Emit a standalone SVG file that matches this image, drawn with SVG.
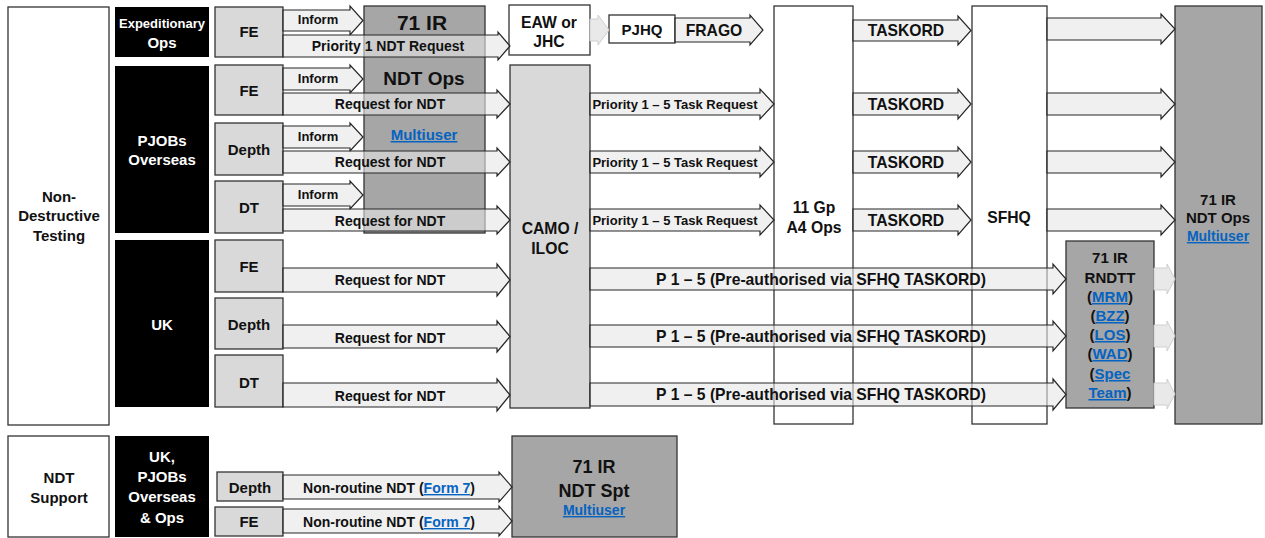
<svg xmlns="http://www.w3.org/2000/svg" width="1265" height="538" viewBox="0 0 1265 538">
<defs>
<style>
.bx{stroke:#333;stroke-width:1.3}
.w{fill:#fff}
.lg{fill:#d9d9d9}
.dg{fill:#a6a6a6}
.bk{fill:#000;stroke:none}
.arr{fill:#e6e6e6;fill-opacity:.6;stroke:#262626;stroke-width:1.2;stroke-linejoin:miter}
.fa{fill:#e9e9e9;stroke:#cfcfcf;stroke-width:1}
text{font-family:"Liberation Sans",Arial,sans-serif;font-weight:bold;text-anchor:middle;fill:#111}
.wt{fill:#fff}
.lk{fill:#0563C1;text-decoration:underline}
.s12{font-size:13px}.s13{font-size:13px}.s135{font-size:14px}.s14{font-size:14px}.s15{font-size:15px}.s16{font-size:15.7px}.s18{font-size:18px}.s19{font-size:19px}.s21{font-size:21px}
</style>
</defs>
<rect width="1265" height="538" fill="#fff"/>
<g id="nodes">
<g id="ndt"><rect class="bx w" x="8" y="7" width="101" height="418"/><text class="s15" x="59" y="202">Non-</text><text class="s15" x="59" y="221">Destructive</text><text class="s15" x="59" y="241">Testing</text></g>
<g id="expops"><rect class="bk" x="115" y="7" width="94" height="50"/><text class="wt s13" x="162" y="28">Expeditionary</text><text class="wt s15" x="162" y="48">Ops</text></g>
<g id="pjobs"><rect class="bk" x="115" y="66" width="94" height="167"/><text class="wt s15" x="162" y="146">PJOBs</text><text class="wt s15" x="162" y="165">Overseas</text></g>
<g id="uk"><rect class="bk" x="115" y="240" width="94" height="167"/><text class="wt s15" x="162" y="330">UK</text></g>
<g id="exp-fe"><rect class="bx lg" x="215" y="7" width="68" height="50"/><text class="s15" x="249" y="37">FE</text></g>
<g id="pj-fe"><rect class="bx lg" x="215" y="65" width="68" height="50"/><text class="s15" x="249" y="96">FE</text></g>
<g id="pj-depth"><rect class="bx lg" x="215" y="123" width="68" height="52"/><text class="s15" x="249" y="155">Depth</text></g>
<g id="pj-dt"><rect class="bx lg" x="215" y="181" width="68" height="52"/><text class="s15" x="249" y="213">DT</text></g>
<g id="uk-fe"><rect class="bx lg" x="215" y="240" width="68" height="52"/><text class="s15" x="249" y="272">FE</text></g>
<g id="uk-depth"><rect class="bx lg" x="215" y="298" width="68" height="51"/><text class="s15" x="249" y="330">Depth</text></g>
<g id="uk-dt"><rect class="bx lg" x="215" y="355" width="68" height="52"/><text class="s15" x="249" y="388">DT</text></g>
<g id="ir71-top"><rect class="bx dg" x="364" y="6" width="121" height="227"/><text class="s21" x="422" y="30">71 IR</text><text class="s19" x="424" y="85">NDT Ops</text><text class="lk s15" x="424" y="140">Multiuser</text></g>
<g id="eaw"><rect class="bx w" x="509" y="5" width="81" height="50"/><text class="s16" x="549" y="28">EAW or</text><text class="s16" x="549" y="47">JHC</text></g>
<g id="pjhq"><rect class="bx w" x="609" y="15" width="66" height="28"/><text class="s15" x="642" y="35">PJHQ</text></g>
<g id="camo"><rect class="bx lg" x="510" y="65" width="80" height="343"/><text class="s16" x="550" y="234">CAMO /</text><text class="s16" x="550" y="254">ILOC</text></g>
<g id="gp11"><rect class="bx w" x="774" y="6" width="79" height="418"/><text class="s16" x="814" y="213">11 Gp</text><text class="s16" x="814" y="233">A4 Ops</text></g>
<g id="sfhq"><rect class="bx w" x="972" y="6" width="75" height="418"/><text class="s16" x="1009" y="223">SFHQ</text></g>
<g id="ir71-ops"><rect class="bx dg" x="1175" y="6" width="87" height="418"/><text class="s15" x="1218" y="205">71 IR</text><text class="s15" x="1218" y="223">NDT Ops</text><text class="lk s14" x="1218" y="241">Multiuser</text></g>
<g id="rndtt"><rect class="bx dg" x="1066" y="241" width="88" height="167"/><text class="s15" x="1110" y="263">71 IR</text><text class="s15" x="1110" y="283">RNDTT</text><text class="s15" x="1110" y="302">(<tspan class="lk">MRM</tspan>)</text><text class="s15" x="1110" y="321">(<tspan class="lk">BZZ</tspan>)</text><text class="s15" x="1110" y="340">(<tspan class="lk">LOS</tspan>)</text><text class="s15" x="1110" y="359">(<tspan class="lk">WAD</tspan>)</text><text class="s15" x="1110" y="379">(<tspan class="lk">Spec</tspan></text><text class="s15" x="1110" y="398"><tspan class="lk">Team</tspan>)</text></g>
<g id="support"><rect class="bx w" x="8" y="436" width="101" height="101"/><text class="s15" x="59" y="483">NDT</text><text class="s15" x="59" y="503">Support</text></g>
<g id="all-ops"><rect class="bk" x="115" y="436" width="94" height="101"/><text class="wt s15" x="162" y="462">UK,</text><text class="wt s15" x="162" y="482">PJOBs</text><text class="wt s15" x="162" y="502">Overseas</text><text class="wt s15" x="162" y="523">&amp; Ops</text></g>
<g id="sp-depth"><rect class="bx lg" x="217" y="472" width="66" height="29"/><text class="s15" x="250" y="493">Depth</text></g>
<g id="sp-fe"><rect class="bx lg" x="215" y="507" width="68" height="29"/><text class="s15" x="249" y="527">FE</text></g>
<g id="ir71-spt"><rect class="bx dg" x="512" y="436" width="165" height="101"/><text class="s18" x="594" y="473">71 IR</text><text class="s18" x="594" y="497">NDT Spt</text><text class="lk s14" x="594" y="515">Multiuser</text></g>
</g>
<g id="connectors">
<polygon class="arr" points="283,10 350,10 350,6 363,20.5 350,35 350,31 283,31"/>
<polygon class="arr" points="283,35 498,35 498,32 510,46 498,60 498,57 283,57"/>
<polygon class="arr" points="283,68 350,68 350,65 363,79 350,93 350,90 283,90"/>
<polygon class="arr" points="283,93 497,93 497,90 510,104 497,118 497,115 283,115"/>
<polygon class="arr" points="283,126 350,126 350,123 363,137 350,151 350,148 283,148"/>
<polygon class="arr" points="283,151 497,151 497,148 510,162 497,176 497,173 283,173"/>
<polygon class="arr" points="283,184 350,184 350,181 363,195 350,209 350,206 283,206"/>
<polygon class="arr" points="283,209 497,209 497,206 510,220 497,234 497,231 283,231"/>
<polygon class="fa" points="590,19 598,19 598,15 609,30 598,45 598,41 590,41"/>
<polygon class="arr" points="675,18 750,18 750,15 763,30 750,45 750,42 675,42"/>
<polygon class="arr" points="590,93 760,93 760,89 774,104 760,119 760,115 590,115"/>
<polygon class="arr" points="590,151 760,151 760,147 774,162 760,177 760,173 590,173"/>
<polygon class="arr" points="590,209 760,209 760,205 774,220 760,235 760,231 590,231"/>
<polygon class="arr" points="853,20 958,20 958,16 971,30.5 958,45 958,41 853,41"/>
<polygon class="arr" points="853,93 958,93 958,89 971,104 958,119 958,115 853,115"/>
<polygon class="arr" points="853,151 958,151 958,147 971,162 958,177 958,173 853,173"/>
<polygon class="arr" points="853,209 958,209 958,205 971,220 958,235 958,231 853,231"/>
<polygon class="arr" points="1047,18 1161,18 1161,14 1175,29 1161,44 1161,40 1047,40"/>
<polygon class="arr" points="1047,93 1161,93 1161,89 1175,104 1161,119 1161,115 1047,115"/>
<polygon class="arr" points="1047,151 1161,151 1161,147 1175,162 1161,177 1161,173 1047,173"/>
<polygon class="arr" points="1047,209 1161,209 1161,205 1175,220 1161,235 1161,231 1047,231"/>
<polygon class="arr" points="283,268 497,268 497,264 510,280 497,296 497,292 283,292"/>
<polygon class="arr" points="283,325 497,325 497,321 510,336.5 497,352 497,348 283,348"/>
<polygon class="arr" points="283,383 497,383 497,379 510,395 497,411 497,407 283,407"/>
<polygon class="arr" points="590,268 1053,268 1053,264 1066,279 1053,294 1053,290 590,290"/>
<polygon class="arr" points="590,325 1053,325 1053,321 1066,336 1053,351 1053,347 590,347"/>
<polygon class="arr" points="590,383 1053,383 1053,379 1066,394.5 1053,410 1053,406 590,406"/>
<polygon class="fa" points="1154,268 1167,268 1167,264 1175,279 1167,294 1167,290 1154,290"/>
<polygon class="fa" points="1154,325 1167,325 1167,321 1175,336 1167,351 1167,347 1154,347"/>
<polygon class="fa" points="1154,383 1167,383 1167,379 1175,394 1167,409 1167,405 1154,405"/>
<polygon class="arr" points="283,475 499,475 499,472 512,487 499,502 499,499 283,499"/>
<polygon class="arr" points="283,509 499,509 499,506 512,521 499,536 499,533 283,533"/>
<text class="s12" x="318" y="24">Inform</text>
<text class="s135" x="388" y="51">Priority 1 NDT Request</text>
<text class="s12" x="318" y="83">Inform</text>
<text class="s14" x="390" y="109">Request for NDT</text>
<text class="s12" x="318" y="141">Inform</text>
<text class="s14" x="390" y="167">Request for NDT</text>
<text class="s12" x="318" y="199">Inform</text>
<text class="s14" x="390" y="226">Request for NDT</text>
<text class="s16" x="714" y="36">FRAGO</text>
<text class="s13" x="675" y="109">Priority 1 – 5 Task Request</text>
<text class="s13" x="675" y="167">Priority 1 – 5 Task Request</text>
<text class="s13" x="675" y="225">Priority 1 – 5 Task Request</text>
<text class="s16" x="906" y="36">TASKORD</text>
<text class="s16" x="906" y="110">TASKORD</text>
<text class="s16" x="906" y="168">TASKORD</text>
<text class="s16" x="906" y="226">TASKORD</text>
<text class="s14" x="390" y="285">Request for NDT</text>
<text class="s14" x="390" y="343">Request for NDT</text>
<text class="s14" x="390" y="401">Request for NDT</text>
<text class="s16" x="821" y="285">P 1 – 5 (Pre-authorised via SFHQ TASKORD)</text>
<text class="s16" x="821" y="342">P 1 – 5 (Pre-authorised via SFHQ TASKORD)</text>
<text class="s16" x="821" y="400">P 1 – 5 (Pre-authorised via SFHQ TASKORD)</text>
<text class="s14" x="389" y="493">Non-routine NDT (<tspan class="lk">Form 7</tspan>)</text>
<text class="s14" x="389" y="527">Non-routine NDT (<tspan class="lk">Form 7</tspan>)</text>
</g>
</svg>
